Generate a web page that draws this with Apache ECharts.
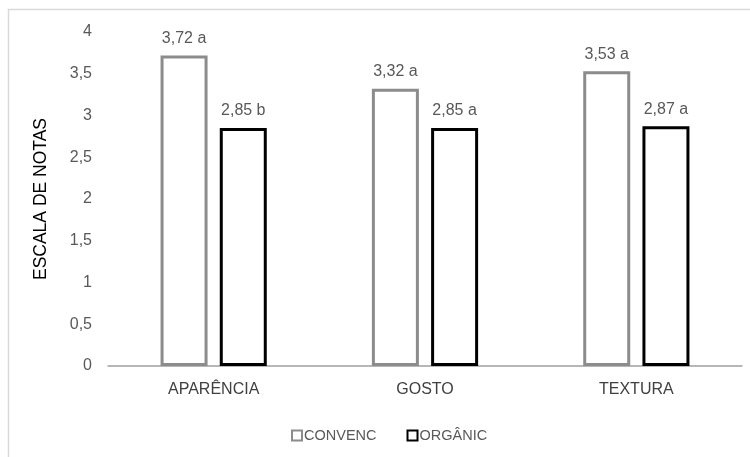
<!DOCTYPE html>
<html>
<head>
<meta charset="utf-8">
<style>
  html, body { margin: 0; padding: 0; background: #ffffff; }
  #chart { width: 750px; height: 457px; }
</style>
<script src="https://cdn.jsdelivr.net/npm/echarts@6/dist/echarts.min.js"></script>
</head>
<body>
<div id="chart"></div>
<script>
// Sensory scores by attribute, conventional vs organic
const categories = ['APARÊNCIA', 'GOSTO', 'TEXTURA'];
const seriesNames = ['CONVENC', 'ORGÂNIC'];
const convencValues = [3.72, 3.32, 3.53];
const organicValues = [2.85, 2.85, 2.87];
const convencLetters = ['a', 'a', 'a'];
const organicLetters = ['b', 'a', 'a'];
const yTicks = [0, 0.5, 1, 1.5, 2, 2.5, 3, 3.5, 4];

const baseFont = '"Liberation Sans", Arial, sans-serif';
const textGray = '#595959';

function fmt(v) {
  return String(v).replace('.', ',');
}

function labelFor(letters) {
  return {
    show: true,
    position: 'top',
    distance: 9,
    color: textGray,
    fontFamily: baseFont,
    fontSize: 16,
    formatter: p => fmt(p.value) + ' ' + letters[p.dataIndex]
  };
}

const chart = echarts.init(document.getElementById('chart'), null, { renderer: 'canvas' });

chart.setOption({
  animation: false,
  backgroundColor: '#ffffff',
  graphic: [{
    type: 'rect',
    shape: { x: 8.5, y: 9.5, width: 760, height: 460 },
    style: { fill: 'none', stroke: '#d9d9d9', lineWidth: 1.5 },
    silent: true,
    z: -1
  }],
  grid: { left: 108, right: 8, top: 32, bottom: 91, containLabel: false },
  legend: {
    data: seriesNames,
    bottom: 9,
    left: 286,
    itemWidth: 10,
    itemHeight: 10,
    itemGap: 30,
    icon: 'rect',
    textStyle: { color: textGray, fontFamily: baseFont, fontSize: 14.5, padding: [0, 0, 0, -3] }
  },
  xAxis: {
    type: 'category',
    data: categories,
    axisLine: { show: true, lineStyle: { color: '#a0a0a0', width: 1.5 } },
    axisTick: { show: false },
    axisLabel: { color: '#404040', fontFamily: baseFont, fontSize: 16, margin: 16 }
  },
  yAxis: {
    type: 'value',
    min: yTicks[0],
    max: yTicks[yTicks.length - 1],
    interval: 0.5,
    name: 'ESCALA DE NOTAS',
    nameLocation: 'middle',
    nameGap: 58,
    nameRotate: 90,
    nameTextStyle: { color: '#000000', fontFamily: baseFont, fontSize: 17.5 },
    axisLine: { show: false },
    axisTick: { show: false },
    splitLine: { show: false },
    axisLabel: {
      color: textGray,
      fontFamily: baseFont,
      fontSize: 16,
      margin: 16,
      formatter: v => fmt(v)
    }
  },
  series: [
    {
      name: seriesNames[0],
      type: 'bar',
      data: convencValues,
      barWidth: 47,
      barGap: '26%',
      itemStyle: { color: '#ffffff', borderColor: '#8c8c8c', borderWidth: 3 },
      label: labelFor(convencLetters)
    },
    {
      name: seriesNames[1],
      type: 'bar',
      data: organicValues,
      barWidth: 47,
      itemStyle: { color: '#ffffff', borderColor: '#000000', borderWidth: 3 },
      label: labelFor(organicLetters)
    }
  ]
});
</script>
</body>
</html>
